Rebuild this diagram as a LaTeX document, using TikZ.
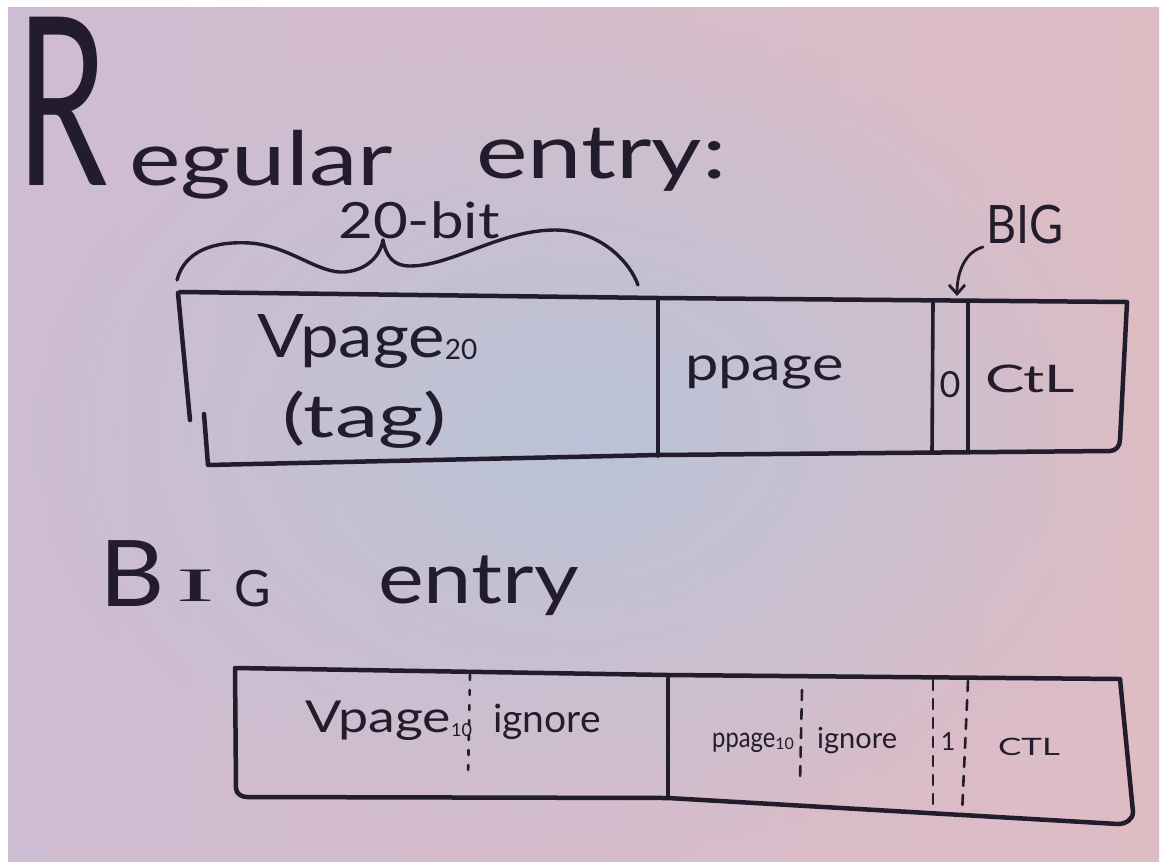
\documentclass[tikz,border=0pt]{standalone}
\usepackage{fontspec}
\setmainfont{Lato}
\newfontfamily\barfont{Liberation Serif}
\usepackage{graphicx}
\usetikzlibrary{arrows.meta,fadings}

\definecolor{ink}{RGB}{34,28,44}
\definecolor{boardL}{RGB}{206,188,210}
\definecolor{boardR}{RGB}{222,188,196}
\definecolor{boardC}{RGB}{184,196,216}
\tikzfading[name=glow, inner color=transparent!5, outer color=transparent!100]

% hand-lettered text: horizontal stretch, size, text
\newcommand{\hw}[3]{\scalebox{#1}[1]{\fontsize{#2}{#2}\selectfont #3}}
% small lowered index: drop, size, text
\newcommand{\lowsub}[3]{\raisebox{#1}{\fontsize{#2}{#2}\selectfont #3}}

\begin{document}
\begin{tikzpicture}[x=1pt,y=-1pt,
  marker/.style={draw=ink, line width=4.5pt, line cap=round, line join=round},
  divider/.style={draw=ink, line width=3.6pt, line cap=round},
  dots/.style={draw=ink, line width=2.6pt, line cap=round, dash pattern=on 5pt off 10pt},
  dashes/.style={draw=ink, line width=2.6pt, line cap=round, dash pattern=on 10pt off 9pt},
  ink text/.style={text=ink, inner sep=0pt, anchor=base west},
  pen/.style={draw=ink, line width=3.4pt, line cap=round, line join=round},
]
\useasboundingbox (0,0) rectangle (1162,863);
\fill[white] (0,0) rectangle (1162,863);
\shade[left color=boardL, right color=boardR] (8,7) rectangle (1159,861);
\fill[boardC, path fading=glow] (8,7) rectangle (1159,861);

% ---- titles
\node[ink text] (titleR) at (16,185) {\hw{0.62}{235}{R}\kern22pt\hw{1.3}{75}{egular}};
\node[ink text] (titleE) at (476,178) {\hw{1.3}{75}{entry:}};
\node[ink text] (bigtitle) at (99,606)
  {\hw{1.1}{92}{B}\kern12pt\raisebox{5pt}{\hw{2.4}{48}{\barfont I}}\kern20pt\hw{1}{50}{G}};
\node[ink text] (bigentry) at (378,603) {\hw{1.22}{71}{entry}};

% ---- width brace
\coordinate (braceL) at (177,280);
\coordinate (braceTip) at (383,240);
\coordinate (braceR) at (638,285);
\draw[pen] (braceL) .. controls (185,250) and (215,241) .. (250,243)
  .. controls (290,246) and (318,274) .. (345,272)
  .. controls (366,270) and (380,257) .. (braceTip);
\draw[pen] (braceTip) .. controls (386,257) and (394,266) .. (410,266)
  .. controls (452,266) and (500,230) .. (555,230)
  .. controls (600,230) and (630,262) .. (braceR);
\node[ink text, anchor=base] (bits) at (419,238) {\hw{1.2}{50}{20-bit}};

% ---- regular entry
\draw[marker] (180,292) -- (658,298) -- (1127,302) -- (1120,440)
  to[out=-90,in=0] (1110,451) -- (658,455) -- (208,465) -- (204,414);
\draw[marker] (178,293) -- (190,420);
\draw[divider] (658,298) -- (658,456);
\draw[divider] (933,303) -- (932,452);
\draw[divider] (968,303) -- (968,452);

\node[ink text] (vpage) at (257,357) {\hw{1.15}{60}{Vpage}\lowsub{-2pt}{28}{20}};
\node[ink text] (tag) at (282,437) {\hw{1.45}{60}{(tag)}};
\node[ink text] (ppage) at (685,380) {\hw{1.24}{48}{ppage}};
\node[ink text, anchor=base] (bitzero) at (950,397) {\hw{1}{36}{0}};
\node[ink text] (ctl) at (985,392) {\hw{1.55}{38}{CtL}};

% ---- BIG flag pointer
\node[ink text, anchor=base] (biglabel) at (1025,243) {\hw{0.88}{53}{BIG}};
\coordinate (arrowfrom) at (983,247);
\coordinate (arrowto) at (957,296);
\draw[ink, line width=2.8pt, line cap=round, -{Straight Barb[length=9pt,width=16pt]}]
  (arrowfrom) .. controls (965,252) and (957,272) .. (arrowto);

% ---- big entry
\draw[marker] (235,668) -- (668,675) -- (1120,679) -- (1133,812)
  to[out=-90,in=0] (1118,824) -- (668,798) -- (247,797)
  to[out=180,in=-90] (236,788) -- cycle;
\draw[divider] (668,676) -- (668,798);
\draw[dots] (470,675) -- (468,778);
\draw[dashes] (802,690) -- (800,782);
\draw[dashes] (933,680) -- (933,812);
\draw[dashes] (968,681) -- (962,814);

\node[ink text] (vpage10) at (305,732) {\hw{1.22}{44}{Vpage}\lowsub{-4pt}{18}{10}};
\node[ink text] (ignoreA) at (493,732) {\hw{1}{39}{ignore}};
\node[ink text] (ppage10) at (712,747) {\hw{0.85}{28}{ppage}\lowsub{-2pt}{16}{10}};
\node[ink text] (ignoreB) at (817,748) {\hw{1}{29}{ignore}};
\node[ink text, anchor=base] (bitone) at (948,750) {\hw{1}{25}{1}};
\node[ink text] (ctlB) at (998,755) {\hw{1.45}{24}{CTL}};
\end{tikzpicture}
\end{document}
